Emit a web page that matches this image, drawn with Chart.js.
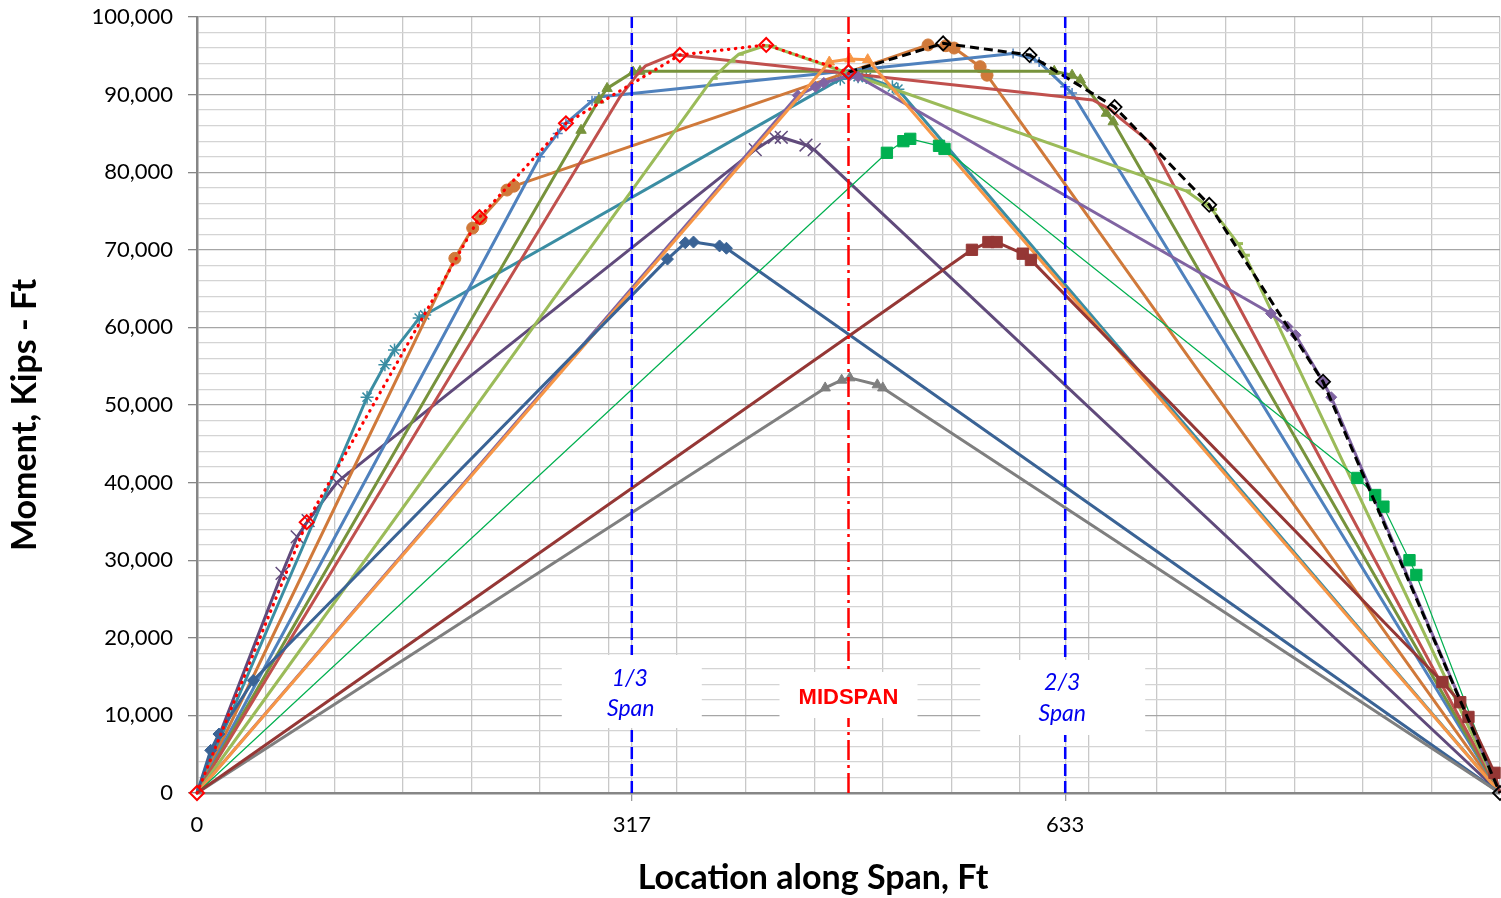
<!DOCTYPE html>
<html>
<head>
<meta charset="utf-8">
<title>Moment along span</title>
<script src="https://cdn.jsdelivr.net/npm/chart.js@4.4.1/dist/chart.umd.min.js"></script>
<style>
  html, body { margin: 0; padding: 0; background: #fff; }
  #wrap { width: 1501px; height: 898px; }
</style>
</head>
<body>
<div id="wrap"><canvas id="momentChart" width="1501" height="898"></canvas></div>
<script>
(() => {
  // axis values
  const SPAN = 950;
  const X_GRID = [0, 50, 100, 150, 200, 250, 300, 350, 400, 450, 500, 550, 600, 650, 700, 750, 800, 850, 900, 950];
  const X_LABELS = [0, 317, 633];
  const THIRD_POINTS = [317, 633];
  const MIDSPAN = 475;
  const Y_MAX = 100000;
  const Y_MINOR = 2000;
  const Y_MAJOR = 10000;

  // envelope (left half red dotted, right half black dashed)
  const envelopeLeft = [[0, 0], [80, 34900], [206, 74200], [269, 86300], [352, 95100], [415, 96400], [475, 92900]];
  const envelopeRight = [[475, 92900], [544, 96600], [607, 95100], [669, 88400], [738, 75800], [821, 53000], [950, 0]];

  // moment diagrams, one per load position
  const darkPurpleX = [[0, 0], [62, 28300], [73, 33000], [81, 35100], [102, 40000], [106, 40600], [407, 82900], [421, 84500], [426, 84500], [444, 83500], [450, 82900], [950, 0]];
  const tealStar = [[0, 0], [124, 51000], [137, 55200], [144, 57100], [162, 61200], [166, 61600], [469, 92000], [482, 92300], [488, 92200], [507, 91000], [511, 90700], [950, 0]];
  const brownCircle = [[0, 0], [188, 68900], [201, 72800], [207, 74000], [226, 77700], [231, 78200], [533, 96400], [546, 96300], [552, 96000], [571, 93600], [576, 92500], [950, 0]];
  const bluePlus = [[0, 0], [250, 82000], [263, 85000], [269, 86300], [288, 89200], [293, 89700], [595, 95300], [608, 94700], [614, 94200], [633, 91000], [638, 90200], [950, 0]];
  const oliveTriangle = [[0, 0], [280, 85400], [293, 89300], [299, 90800], [318, 92900], [323, 93000], [625, 93000], [638, 92500], [644, 91900], [663, 87600], [668, 86500], [950, 0]];
  const redPlain = [[0, 0], [308, 89600], [321, 92600], [327, 93700], [346, 95100], [351, 95100], [653, 89300], [666, 88100], [672, 87100], [691, 84400], [696, 83600], [950, 0]];
  const lightGreenDash = [[0, 0], [376, 92100], [389, 94300], [395, 95200], [414, 96300], [419, 96200], [721, 77600], [734, 76000], [740, 75200], [759, 70800], [764, 69300], [950, 0]];
  const purpleDiamond = [[0, 0], [438, 89900], [451, 91000], [457, 91500], [476, 92500], [482, 92300], [783, 61800], [795, 60100], [801, 59000], [821, 53000], [827, 51000], [950, 0]];
  const orangeTriangle = [[0, 0], [461, 94200], [476, 94600], [489, 94500], [950, 0]];
  const darkBlueDiamond = [[0, 0], [10, 5500], [16, 7600], [41, 14500], [343, 68800], [356, 70900], [362, 71000], [381, 70500], [386, 70200], [950, 0]];
  const greenSquare = [[0, 0], [503, 82500], [515, 84000], [520, 84300], [541, 83400], [545, 83000], [846, 40600], [859, 38400], [865, 36900], [884, 30000], [889, 28100], [950, 0]];
  const darkRedSquare = [[0, 0], [565, 70000], [577, 71000], [583, 71000], [602, 69500], [608, 68700], [908, 14300], [921, 11700], [927, 9800], [946, 2600], [950, 0]];
  const grayTriangle = [[0, 0], [458, 52200], [470, 53200], [476, 53500], [496, 52600], [500, 52200], [950, 0]];

  const canvas = document.getElementById("momentChart");
  const LABEL_FONT = "Lato, 'Open Sans', sans-serif";

  function toPoints(pairs) {
    return pairs.map(([x, y]) => ({ x, y }));
  }

  function series(label, pairs, color, style, radius, extra = {}) {
    return Object.assign({
      label,
      data: toPoints(pairs),
      borderColor: color,
      backgroundColor: color,
      pointBackgroundColor: color,
      pointBorderColor: color,
      borderWidth: 3,
      pointBorderWidth: 1,
      pointStyle: style,
      pointRadius: (ctx) => {
        const p = ctx.raw;
        return p && (p.x === 0 || p.x === SPAN) ? 0 : radius;
      },
      tension: 0,
      borderJoinStyle: "round",
      clip: 12
    }, extra);
  }

  function refLine(label, x, color, dash, width) {
    return {
      label,
      data: [{ x, y: 0 }, { x, y: Y_MAX }],
      borderColor: color,
      borderWidth: width,
      borderDash: dash,
      pointRadius: 0,
      clip: 4
    };
  }

  const datasets = [
    refLine("Midspan", MIDSPAN, "#FF0000", [20, 5, 3, 5], 2.5),
    refLine("1/3 Span", THIRD_POINTS[0], "#0000FF", [12, 5], 2.5),
    refLine("2/3 Span", THIRD_POINTS[1], "#0000FF", [12, 5], 2.5),
    {
      label: "Envelope left",
      data: toPoints(envelopeLeft),
      borderColor: "#FF0000",
      borderWidth: 3.2,
      borderDash: [0.5, 6.5],
      borderCapStyle: "round",
      pointStyle: "rectRot",
      pointRadius: 7,
      pointBorderWidth: 2,
      pointBorderColor: "#FF0000",
      pointBackgroundColor: "rgba(0,0,0,0)",
      clip: 12
    },
    {
      label: "Envelope right",
      data: toPoints(envelopeRight),
      borderColor: "#000000",
      borderWidth: 3,
      borderDash: [9, 5],
      pointStyle: "rectRot",
      pointRadius: 7,
      pointBorderWidth: 1.8,
      pointBorderColor: "#000000",
      pointBackgroundColor: "rgba(0,0,0,0)",
      clip: 12
    },
    series("Dark red", darkRedSquare, "#953735", "rect", 8),
    series("Green", greenSquare, "#00B050", "rect", 8, { borderWidth: 1.2 }),
    series("Gray", grayTriangle, "#7F7F7F", "triangle", 6),
    series("Dark blue", darkBlueDiamond, "#3A6395", "rectRot", 6),
    series("Orange", orangeTriangle, "#F79646", "triangle", 6),
    series("Purple", purpleDiamond, "#8064A2", "rectRot", 5.5),
    series("Light green", lightGreenDash, "#9BBB59", "dash", 5, { pointBorderWidth: 3 }),
    series("Red", redPlain, "#C0504D", "circle", 0),
    series("Olive", oliveTriangle, "#77933C", "triangle", 6),
    series("Blue", bluePlus, "#4F81BD", "cross", 5, { pointBorderWidth: 1.5 }),
    series("Brown", brownCircle, "#D0793A", "circle", 6),
    series("Teal", tealStar, "#3A8DA3", "star", 6.5, { pointBorderWidth: 1.5 }),
    series("Dark purple", darkPurpleX, "#604A7B", "crossRot", 9, { pointBorderWidth: 1.5 })
  ];

  // white label boxes that sit over the reference lines, offsets from the line foot
  const spanLabels = [
    { x: THIRD_POINTS[0], box: [-70, 70, -138, -65], lines: [["1/3", -2, -114], ["Span", -1, -84]], color: "#0000EE", font: "italic 23px " + LABEL_FONT },
    { x: MIDSPAN, box: [-69, 69, -121, -75], lines: [["MIDSPAN", 0, -95]], color: "#FF0000", font: "bold 22px 'Liberation Sans', Arial, sans-serif" },
    { x: THIRD_POINTS[1], box: [-85, 80, -133, -58], lines: [["2/3", -3, -110], ["Span", -3, -79]], color: "#0000EE", font: "italic 23px " + LABEL_FONT }
  ];

  const labelPlugin = {
    id: "spanLabels",
    afterDatasetsDraw(chart) {
      const { ctx, chartArea, scales } = chart;
      ctx.save();
      spanLabels.forEach((item) => {
        const cx = scales.x.getPixelForValue(item.x);
        const base = chartArea.bottom;
        const [l, r, t, b] = item.box;
        ctx.fillStyle = "#FFFFFF";
        ctx.fillRect(cx + l, base + t, r - l, b - t);
        ctx.fillStyle = item.color;
        ctx.font = item.font;
        ctx.textAlign = "center";
        ctx.textBaseline = "middle";
        item.lines.forEach(([text, dx, dy]) => ctx.fillText(text, cx + dx, base + dy));
      });
      ctx.restore();
    },
    afterDraw(chart) {
      const { ctx, chartArea } = chart;
      ctx.save();
      ctx.fillStyle = "#000000";
      ctx.textAlign = "center";
      ctx.textBaseline = "middle";
      ctx.font = "bold 34px " + LABEL_FONT;
      ctx.fillText("Location along Span, Ft", 813, chartArea.bottom + 85);
      ctx.translate(25, 415);
      ctx.rotate(-Math.PI / 2);
      ctx.font = "bold 34px " + LABEL_FONT;
      ctx.fillText("Moment, Kips - Ft", 0, 0);
      ctx.restore();
    }
  };

  new Chart(canvas.getContext("2d"), {
    type: "line",
    data: { datasets },
    plugins: [labelPlugin],
    options: {
      responsive: false,
      animation: false,
      events: [],
      layout: { autoPadding: false, padding: { top: 17, right: 1, left: 0, bottom: 0 } },
      plugins: { legend: { display: false }, tooltip: { enabled: false } },
      scales: {
        x: {
          type: "linear",
          min: 0,
          max: SPAN,
          afterBuildTicks: (scale) => {
            scale.ticks = X_GRID.concat(THIRD_POINTS).sort((a, b) => a - b).map((value) => ({ value }));
          },
          afterFit: (scale) => {
            scale.height = 105;
            scale.paddingLeft = 0;
            scale.paddingRight = 0;
          },
          ticks: {
            autoSkip: false,
            maxRotation: 0,
            padding: 11,
            color: "#000000",
            font: { family: LABEL_FONT, size: 22 },
            callback: (value) => (X_LABELS.includes(value) ? String(value) : "")
          },
          grid: {
            color: "#C8C8C8",
            lineWidth: 1.3,
            tickLength: 8,
            tickColor: (ctx) => (ctx.tick && THIRD_POINTS.includes(ctx.tick.value) ? "#9A9A9A" : "rgba(0,0,0,0)")
          },
          border: { color: "#868686", width: 2.5 }
        },
        y: {
          type: "linear",
          min: 0,
          max: Y_MAX,
          afterFit: (scale) => {
            scale.width = 197;
            scale.paddingTop = 0;
            scale.paddingBottom = 0;
          },
          ticks: {
            stepSize: Y_MINOR,
            autoSkip: false,
            padding: 15,
            color: "#000000",
            font: { family: LABEL_FONT, size: 22 },
            callback: (value) => (value % Y_MAJOR === 0 ? value.toLocaleString("en-US") : "")
          },
          grid: {
            color: (ctx) => (ctx.tick && ctx.tick.value % Y_MAJOR === 0 ? "#A6A6A6" : "#D4D4D4"),
            lineWidth: 1.3,
            tickLength: 9,
            tickColor: (ctx) => (ctx.tick && ctx.tick.value % Y_MAJOR === 0 ? "#868686" : "rgba(0,0,0,0)")
          },
          border: { color: "#868686", width: 2.5 }
        }
      }
    }
  });
})();
</script>
</body>
</html>
